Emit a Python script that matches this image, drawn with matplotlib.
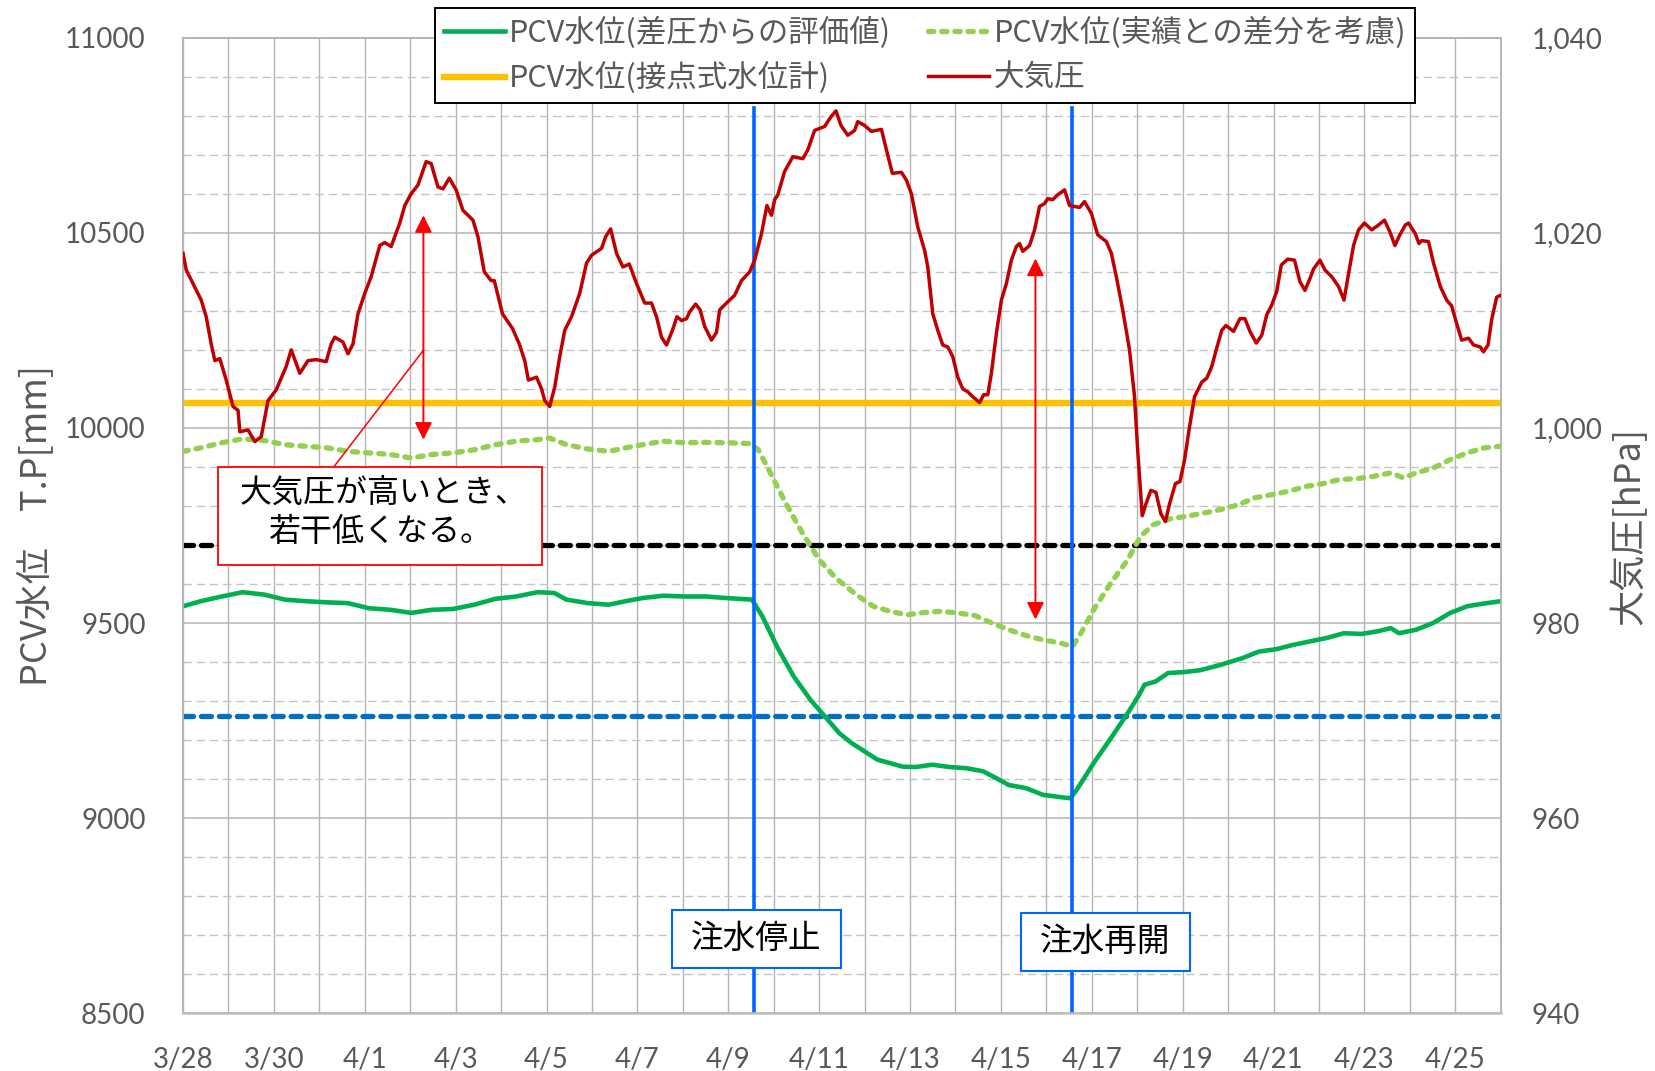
import matplotlib.pyplot as plt
import numpy as np
from matplotlib.ticker import MultipleLocator, FuncFormatter
from matplotlib.lines import Line2D
from matplotlib.patches import Rectangle

plt.rcParams['font.family'] = ['Noto Sans CJK JP', 'DejaVu Sans']

# x = days elapsed since 3/28 0:00
press_day = [0.00, 0.07, 0.22, 0.40, 0.51, 0.62, 0.70, 0.81, 0.95, 1.10, 1.21, 1.25, 1.43, 1.58, 1.72,
             1.87, 2.05, 2.16, 2.27, 2.38, 2.57, 2.75, 2.93, 3.15, 3.26, 3.34, 3.52, 3.63, 3.74, 3.85,
             4.00, 4.14, 4.33, 4.44, 4.58, 4.77, 4.88, 5.02, 5.17, 5.35, 5.46, 5.61, 5.72, 5.86, 6.01,
             6.16, 6.38, 6.49, 6.63, 6.78, 6.85, 7.03, 7.25, 7.40, 7.52, 7.60, 7.78, 7.89, 7.96, 8.07,
             8.18, 8.29, 8.40, 8.55, 8.73, 8.88, 8.99, 9.21, 9.30, 9.41, 9.54, 9.68, 9.82, 9.98, 10.16,
             10.31, 10.42, 10.53, 10.64, 10.77, 10.87, 10.97, 11.08, 11.15, 11.28, 11.38, 11.48, 11.63,
             11.74, 11.81, 11.96, 12.14, 12.29, 12.47, 12.58, 12.73, 12.85, 12.95, 13.02, 13.09, 13.24,
             13.42, 13.64, 13.75, 13.90, 14.12, 14.26, 14.37, 14.48, 14.63, 14.78, 14.85, 15.00, 15.15,
             15.37, 15.48, 15.61, 15.81, 15.92, 16.03, 16.17, 16.32, 16.39, 16.50, 16.61, 16.72, 16.83,
             16.94, 17.05, 17.16, 17.27, 17.38, 17.53, 17.62, 17.71, 17.79, 17.90, 18.01, 18.12, 18.23,
             18.34, 18.41, 18.48, 18.63, 18.74, 18.85, 18.96, 19.03, 19.14, 19.25, 19.40, 19.51, 19.62,
             19.73, 19.84, 19.99, 20.13, 20.32, 20.43, 20.54, 20.68, 20.83, 20.94, 21.01, 21.11, 21.19,
             21.30, 21.41, 21.52, 21.62, 21.71, 21.84, 21.94, 22.04, 22.15, 22.26, 22.42, 22.53, 22.64,
             22.75, 22.86, 22.95, 23.12, 23.26, 23.37, 23.48, 23.62, 23.74, 23.85, 23.96, 24.07, 24.17,
             24.31, 24.46, 24.58, 24.69, 24.80, 24.88, 25.02, 25.13, 25.28, 25.43, 25.55, 25.65, 25.76,
             25.87, 26.00, 26.16, 26.31, 26.44, 26.56, 26.67, 26.78, 26.90, 26.97, 27.12, 27.20, 27.26,
             27.41, 27.52, 27.67, 27.81, 27.92, 28.03, 28.14, 28.29, 28.40, 28.55, 28.62, 28.72, 28.80,
             28.91, 29.00]
press_hpa = [1017.9, 1016.2, 1014.8, 1013.1, 1011.4, 1008.6, 1006.9, 1007.1, 1004.9, 1002.2, 1001.8, 999.6,
             999.8, 998.6, 999.1, 1002.8, 1003.9, 1005.1, 1006.3, 1008.0, 1005.6, 1006.9, 1007.0, 1006.8,
             1008.6, 1009.3, 1008.8, 1007.6, 1008.6, 1011.7, 1013.8, 1015.5, 1018.7, 1019.0, 1018.6, 1021.0,
             1022.8, 1024.0, 1024.9, 1027.3, 1027.1, 1024.7, 1024.5, 1025.6, 1024.4, 1022.3, 1021.3, 1019.6,
             1016.0, 1015.1, 1015.1, 1011.7, 1010.2, 1008.6, 1006.9, 1004.9, 1005.2, 1004.0, 1002.8, 1002.2,
             1004.2, 1007.3, 1010.0, 1011.4, 1013.8, 1016.9, 1017.7, 1018.4, 1019.6, 1020.4, 1017.9, 1016.5,
             1016.8, 1014.8, 1012.8, 1012.8, 1011.4, 1009.3, 1008.5, 1010.0, 1011.4, 1011.0, 1011.2, 1011.9,
             1012.7, 1012.1, 1010.4, 1009.0, 1009.8, 1012.1, 1012.8, 1013.6, 1015.1, 1016.0, 1017.2, 1019.9,
             1022.8, 1021.8, 1023.4, 1023.9, 1026.3, 1027.8, 1027.6, 1028.5, 1030.5, 1030.9, 1031.9, 1032.5,
             1031.0, 1030.0, 1030.5, 1031.4, 1031.0, 1030.4, 1030.6, 1028.5, 1026.1, 1026.2, 1025.4, 1024.0,
             1020.6, 1018.2, 1016.5, 1011.7, 1010.0, 1008.5, 1008.3, 1007.3, 1005.2, 1004.0, 1003.7, 1003.2,
             1002.6, 1003.4, 1003.4, 1005.6, 1009.7, 1013.1, 1014.8, 1017.2, 1018.6, 1018.9, 1018.1, 1018.7,
             1020.3, 1022.7, 1023.0, 1023.5, 1023.4, 1023.9, 1024.4, 1022.8, 1022.7, 1022.6, 1023.2, 1022.0,
             1019.8, 1019.1, 1017.9, 1015.5, 1012.1, 1008.0, 1003.2, 997.7, 991.0, 992.2, 993.6, 993.4,
             991.2, 990.4, 992.2, 994.3, 994.5, 996.7, 1000.1, 1003.2, 1004.7, 1005.1, 1006.3, 1008.2,
             1010.0, 1010.5, 1009.9, 1011.2, 1011.2, 1009.9, 1008.7, 1009.5, 1011.6, 1012.6, 1014.0, 1016.7,
             1017.3, 1017.2, 1015.0, 1014.1, 1015.3, 1016.3, 1017.2, 1016.2, 1015.5, 1014.5, 1013.1, 1015.8,
             1018.7, 1020.3, 1021.0, 1020.3, 1020.8, 1021.3, 1020.1, 1018.7, 1019.8, 1020.8, 1021.0, 1019.9,
             1018.9, 1019.2, 1019.1, 1016.9, 1014.5, 1013.1, 1012.5, 1010.7, 1009.0, 1009.2, 1008.5, 1008.3,
             1007.8, 1008.5, 1011.1, 1013.4, 1013.6]

dp_day = [0.00, 0.39, 0.85, 1.31, 1.78, 2.24, 2.70, 3.17, 3.63, 4.09, 4.56, 5.02, 5.48, 5.94, 6.41, 6.87,
          7.33, 7.80, 8.17, 8.44, 8.91, 9.37, 9.74, 10.11, 10.57, 11.04, 11.50, 11.96, 12.52, 12.75, 13.07,
          13.44, 13.81, 14.19, 14.44, 14.72, 15.00, 15.28, 15.56, 15.84, 16.12, 16.49, 16.87, 17.24, 17.61,
          17.89, 18.17, 18.55, 18.92, 19.30, 19.53, 19.67, 20.04, 20.42, 20.79, 21.02, 21.16, 21.40, 21.68,
          22.00, 22.38, 22.84, 23.31, 23.68, 24.06, 24.43, 24.80, 25.18, 25.55, 25.93, 26.30, 26.58, 26.76,
          27.14, 27.51, 27.89, 28.26, 28.63, 29.00]
dp_level = [9543, 9556, 9568, 9579, 9573, 9560, 9556, 9553, 9551, 9538, 9534, 9526, 9534, 9536, 9547, 9562,
            9568, 9579, 9577, 9560, 9551, 9547, 9556, 9564, 9570, 9568, 9568, 9564, 9560, 9517, 9440,
            9363, 9303, 9252, 9218, 9192, 9171, 9150, 9141, 9132, 9131, 9137, 9131, 9128, 9120,
            9103, 9085, 9077, 9060, 9054, 9051, 9073, 9141, 9205, 9269, 9312, 9342, 9350, 9372,
            9374, 9379, 9393, 9410, 9427, 9433, 9444, 9453, 9462, 9474, 9472, 9479, 9487, 9474,
            9483, 9500, 9526, 9543, 9550, 9556]

adj_day = [0.00, 0.39, 0.85, 1.31, 1.78, 2.24, 2.70, 3.17, 3.63, 4.09, 4.56, 5.02, 5.48, 5.94, 6.41, 6.87,
           7.33, 7.80, 8.07, 8.44, 8.91, 9.37, 9.74, 10.11, 10.57, 11.04, 11.50, 11.96, 12.47, 12.66, 12.89,
           13.26, 13.63, 14.00, 14.37, 14.81, 15.19, 15.56, 15.93, 16.31, 16.68, 17.05, 17.43, 17.80, 18.17,
           18.55, 18.92, 19.30, 19.58, 19.76, 20.04, 20.42, 20.79, 21.07, 21.35, 21.72, 22.10, 22.47, 22.84,
           23.22, 23.59, 23.96, 24.34, 24.71, 25.08, 25.46, 25.83, 26.20, 26.58, 26.86, 27.14, 27.51, 27.89,
           28.26, 28.63, 29.00]
adj_level = [9940, 9949, 9962, 9972, 9968, 9957, 9953, 9949, 9940, 9936, 9932, 9923, 9932, 9936, 9944, 9957,
             9966, 9970, 9974, 9957, 9946, 9940, 9949, 9957, 9966, 9962, 9963, 9962, 9960, 9944, 9893,
             9808, 9731, 9662, 9615, 9573, 9543, 9530, 9521, 9527, 9530, 9526, 9519, 9500, 9483,
             9468, 9457, 9449, 9440, 9474, 9534, 9603, 9662, 9722, 9752, 9767, 9774, 9782, 9791,
             9803, 9821, 9829, 9838, 9850, 9857, 9868, 9870, 9876, 9885, 9872, 9885, 9897, 9919,
             9936, 9949, 9953]

contact_level = 10063
black_level = 9700
blue_level = 9262
stop_day = 12.56
restart_day = 19.57

tick_days = list(range(0, 29, 2))
tick_labels = ['3/28', '3/30', '4/1', '4/3', '4/5', '4/7', '4/9', '4/11', '4/13',
               '4/15', '4/17', '4/19', '4/21', '4/23', '4/25']

GRAY = '#595959'
GRID = '#B4B4B4'
ADJ_STYLE = dict(color='#92D050', lw=3.8, dashes=(1.0, 1.5), dash_capstyle='round')
REF_DASH = dict(lw=3.8, dashes=(1.9, 1.5), dash_capstyle='round')

fig = plt.figure(figsize=(16.55, 10.71), dpi=100)
ax = fig.add_axes([0.1106, 0.0539, 0.7962, 0.9109])
ax2 = ax.twinx()

ax.set_xlim(0, 29)
ax.set_ylim(8500, 11000)
ax2.set_ylim(940, 1040)

ax.xaxis.set_major_locator(plt.FixedLocator(tick_days))
ax.xaxis.set_minor_locator(MultipleLocator(1))
ax.set_xticklabels(tick_labels)
ax.yaxis.set_major_locator(MultipleLocator(500))
ax.yaxis.set_minor_locator(MultipleLocator(100))
ax2.yaxis.set_major_locator(MultipleLocator(20))
ax2.yaxis.set_major_formatter(FuncFormatter(lambda v, _: f'{v:,.0f}'))

ax.set_axisbelow(True)
ax.xaxis.grid(True, which='both', color=GRID, lw=1.0)
ax.yaxis.grid(True, which='major', color=GRID, lw=1.1)
ax.yaxis.grid(True, which='minor', color='#C4C4C4', lw=1.0, ls=(0, (6, 3.5)))

ax.tick_params(axis='both', which='both', length=0, colors=GRAY, labelsize=20, labelfontfamily='Lato')
ax.tick_params(axis='x', pad=24)
ax.tick_params(axis='y', pad=27)
ax2.tick_params(axis='y', which='both', length=0, colors=GRAY, labelsize=20, labelfontfamily='Lato', pad=22)
for a in (ax, ax2):
    for sp in a.spines.values():
        sp.set_color(GRID)
        sp.set_linewidth(1.1)
ax2.spines['bottom'].set_linewidth(1.8)
ax2.spines['bottom'].set_color('#BFBFBF')

# reference levels
ax.axhline(contact_level, color='#FFC000', lw=4.6, zorder=2)
ax.axhline(black_level, color='black', zorder=2, **REF_DASH)
ax.axhline(blue_level, color='#0070C0', zorder=2, **REF_DASH)

ax.plot(adj_day, adj_level, zorder=3, **ADJ_STYLE)
ax.plot(dp_day, dp_level, color='#00B050', lw=3.3, zorder=3)

ax.axvline(stop_day, ymax=0.928, color='#0066FF', lw=2.6, zorder=4)
ax.axvline(restart_day, ymax=0.928, color='#0066FF', lw=2.6, zorder=4)

ax2.plot(press_day, press_hpa, color='#C00000', lw=2.5, zorder=3)

# annotations (left axis units)
arrow = dict(arrowstyle='<|-|>', color='red', lw=1.4, mutation_scale=26, shrinkA=0, shrinkB=0)
ax2.annotate('', xy=(5.29, 10545), xytext=(5.29, 9970), xycoords=ax.transData, textcoords=ax.transData,
             arrowprops=arrow)
ax2.annotate('', xy=(18.76, 10434), xytext=(18.76, 9509), xycoords=ax.transData, textcoords=ax.transData,
             arrowprops=arrow)
ax2.plot([3.31, 5.29], [9899, 10199], color='red', lw=1.1, transform=ax.transData, zorder=5)

ax2.add_patch(Rectangle((0.76, 9650), 7.13, 249, transform=ax.transData, facecolor='white',
                        edgecolor='red', lw=1.3, zorder=6))
ax2.text(4.42, 9834, '大気圧が高いとき、', transform=ax.transData, ha='center', va='center',
         fontsize=23, color='black', zorder=7)
ax2.text(4.36, 9733, '若干低くなる。', transform=ax.transData, ha='center', va='center',
         fontsize=23, color='black', zorder=7)

for x0, w, y0, label in [(10.77, 3.70, 8615, '注水停止'), (18.44, 3.71, 8608, '注水再開')]:
    ax2.add_patch(Rectangle((x0, y0), w, 150, transform=ax.transData, facecolor='white',
                            edgecolor='#0066FF', lw=1.5, zorder=6))
    ax2.text(x0 + w / 2, y0 + 75, label, transform=ax.transData, ha='center', va='center',
             fontsize=23.5, color='black', zorder=7)

fig.text(37 / 1655, 1 - 526 / 1071, 'PCV水位　T.P[mm]', rotation=90, ha='center', va='center',
         fontsize=26, color=GRAY)
fig.text(1629 / 1655, 1 - 526 / 1071, '大気圧[hPa]', rotation=90, ha='center', va='center',
         fontsize=26, color=GRAY)

handles = [
    Line2D([], [], color='#00B050', lw=3.3),
    Line2D([], [], color='#FFC000', lw=4.6),
    Line2D([], [], **ADJ_STYLE),
    Line2D([], [], color='#C00000', lw=2.5),
]
labels = ['PCV水位(差圧からの評価値)', 'PCV水位(接点式水位計)', 'PCV水位(実績との差分を考慮)', '大気圧']
leg = ax2.legend(handles, labels, ncol=2, loc='upper left', bbox_to_anchor=(435 / 1655, 1 - 8 / 1071),
                 bbox_transform=fig.transFigure, borderaxespad=0, borderpad=0.28, fontsize=22,
                 handlelength=2.0, handletextpad=0.15, columnspacing=1.2, labelspacing=0.45,
                 frameon=True, fancybox=False, edgecolor='black', framealpha=1, labelcolor=GRAY)
leg.get_frame().set_linewidth(1.4)
leg.set_zorder(10)

fig.savefig('out.png', dpi=100)
